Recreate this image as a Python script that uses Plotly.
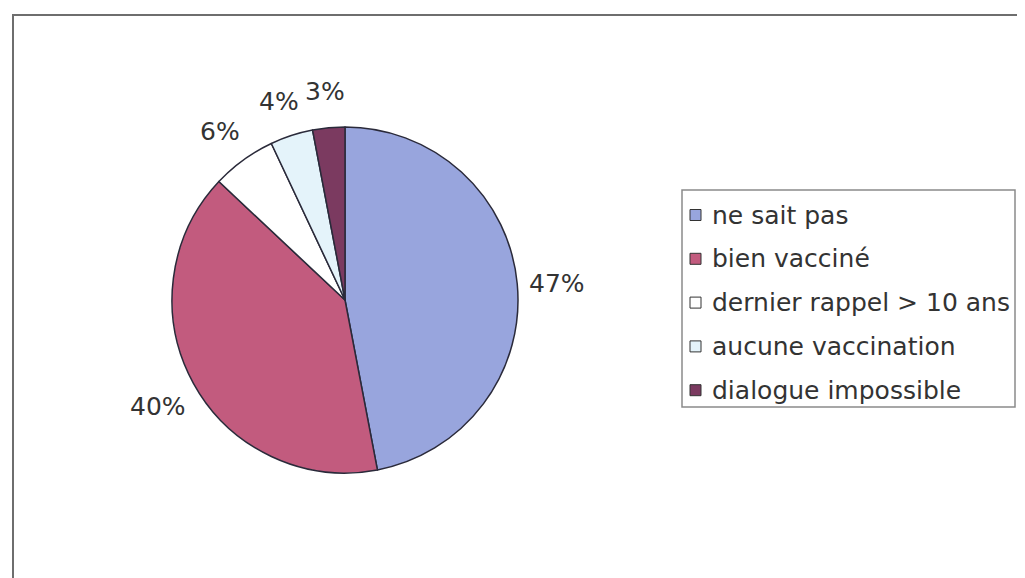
import math
import plotly.graph_objects as go

categories = ["ne sait pas", "bien vacciné", "dernier rappel > 10 ans", "aucune vaccination", "dialogue impossible"]
values = [47, 40, 6, 4, 3]
colors = ["#98A5DD", "#C25B7E", "#FFFFFF", "#E4F3FA", "#7B3A60"]

W, H = 1025, 578
OFF = 8  # page body margin


def px(x):
    return (x - OFF) / W


def py(y):
    return 1 - (y - OFF) / H


FONT = "DejaVu Sans"
TXT = "#333333"

# pie geometry (page pixels)
CX, CY, R = 345, 300, 173

fig = go.Figure()
fig.add_trace(go.Pie(
    labels=categories, values=values, sort=False, direction="clockwise", rotation=0,
    marker=dict(colors=colors, line=dict(color="#2a2a3a", width=1.5)),
    textinfo="none", showlegend=False,
    domain=dict(x=[px(CX - R), px(CX + R)], y=[py(CY + R), py(CY - R)]),
    hoverinfo="label+percent",
))

annotations = []
total = sum(values)
cum = 0
for v in values:
    mid = (cum + v / 2) / total * 2 * math.pi
    cum += v
    d = R + 40
    x = CX + d * math.sin(mid)
    y = CY - d * math.cos(mid) + 4
    annotations.append(dict(x=px(x), y=py(y), xref="paper", yref="paper", text=f"{v}%",
                            showarrow=False, xanchor="center", yanchor="middle",
                            font=dict(family=FONT, size=25, color=TXT)))

shapes = [dict(type="rect", xref="paper", yref="paper", x0=px(13), x1=1.05, y0=-0.05, y1=py(15),
               line=dict(color="#6e6e6e", width=2))]

# legend box
LX0, LX1, LY0, LY1 = 682, 1015, 190, 407
shapes.append(dict(type="rect", xref="paper", yref="paper", x0=px(LX0), x1=px(LX1), y0=py(LY1), y1=py(LY0),
                   line=dict(color="#8a8a8a", width=1.5), fillcolor="white", layer="below"))
item_y0, item_gap = 215, 43.8
for i, (c, col) in enumerate(zip(categories, colors)):
    yc = item_y0 + i * item_gap
    shapes.append(dict(type="rect", xref="paper", yref="paper",
                       x0=px(690), x1=px(701), y0=py(yc + 5.5), y1=py(yc - 5.5),
                       fillcolor=col, line=dict(color="#333333", width=1)))
    annotations.append(dict(x=px(710), y=py(yc), xref="paper", yref="paper", text=c,
                            showarrow=False, xanchor="left", yanchor="middle",
                            font=dict(family=FONT, size=25, color=TXT)))

fig.update_layout(
    width=W, height=H, margin=dict(l=0, r=0, t=0, b=0),
    paper_bgcolor="white", plot_bgcolor="white",
    showlegend=False, shapes=shapes, annotations=annotations,
)
fig.write_html("out.html")
